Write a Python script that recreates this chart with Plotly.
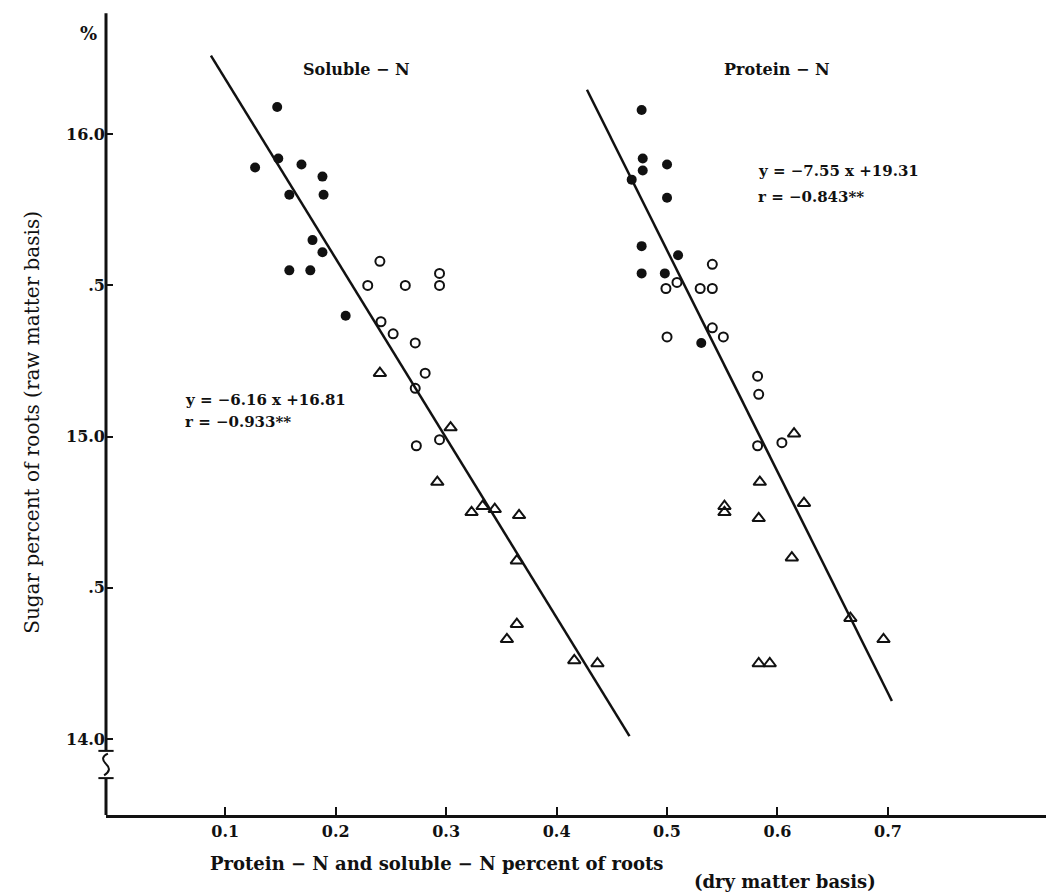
import plotly.graph_objects as go

# ---------------- data ----------------
# Soluble-N
sol_filled_x = [0.147, 0.148, 0.127, 0.169, 0.188, 0.189, 0.158, 0.179, 0.188, 0.158, 0.177, 0.209]
sol_filled_y = [16.09, 15.92, 15.89, 15.90, 15.86, 15.80, 15.80, 15.65, 15.61, 15.55, 15.55, 15.40]
sol_open_x = [0.240, 0.229, 0.263, 0.294, 0.294, 0.241, 0.252, 0.272, 0.281, 0.272, 0.294, 0.273]
sol_open_y = [15.58, 15.50, 15.50, 15.54, 15.50, 15.38, 15.34, 15.31, 15.21, 15.16, 14.99, 14.97]
sol_tri_x = [0.240, 0.304, 0.292, 0.323, 0.333, 0.344, 0.366, 0.364, 0.364, 0.355, 0.416, 0.437]
sol_tri_y = [15.21, 15.03, 14.85, 14.75, 14.77, 14.76, 14.74, 14.59, 14.38, 14.33, 14.26, 14.25]
sol_line_x = [0.087, 0.466]
sol_line_y = [16.26, 14.01]

# Protein-N
pro_filled_x = [0.477, 0.478, 0.478, 0.500, 0.468, 0.500, 0.477, 0.510, 0.477, 0.498, 0.531]
pro_filled_y = [16.08, 15.92, 15.88, 15.90, 15.85, 15.79, 15.63, 15.60, 15.54, 15.54, 15.31]
pro_open_x = [0.541, 0.509, 0.499, 0.530, 0.541, 0.500, 0.541, 0.551, 0.582, 0.583, 0.582, 0.604]
pro_open_y = [15.57, 15.51, 15.49, 15.49, 15.49, 15.33, 15.36, 15.33, 15.20, 15.14, 14.97, 14.98]
pro_tri_x = [0.615, 0.584, 0.552, 0.552, 0.583, 0.624, 0.613, 0.666, 0.696, 0.583, 0.593]
pro_tri_y = [15.01, 14.85, 14.77, 14.75, 14.73, 14.78, 14.60, 14.40, 14.33, 14.25, 14.25]
pro_line_x = [0.4275, 0.7036]
pro_line_y = [16.147, 14.126]

x_tick_vals = [0.1, 0.2, 0.3, 0.4, 0.5, 0.6, 0.7]
x_tick_text = ["0.1", "0.2", "0.3", "0.4", "0.5", "0.6", "0.7"]
y_tick_vals = [14.0, 14.5, 15.0, 15.5, 16.0]
y_tick_text = ["14.0", ".5", "15.0", ".5", "16.0"]

FONT = "DejaVu Serif"
BLACK = "#111111"

fig = go.Figure()

def add_points(xs, ys, symbol, size, lw):
    fig.add_trace(go.Scatter(
        x=xs, y=ys, mode="markers", showlegend=False, hoverinfo="skip",
        marker=dict(symbol=symbol, size=size, color=BLACK,
                    line=dict(color=BLACK, width=lw))))

def add_line(xs, ys):
    fig.add_trace(go.Scatter(
        x=xs, y=ys, mode="lines", showlegend=False, hoverinfo="skip",
        line=dict(color=BLACK, width=2.5)))

add_line(sol_line_x, sol_line_y)
add_line(pro_line_x, pro_line_y)
add_points(sol_filled_x, sol_filled_y, "circle", 10, 0)
add_points(sol_open_x, sol_open_y, "circle-open", 9, 2)
add_points(sol_tri_x, sol_tri_y, "triangle-up-open", 11, 2)
add_points(pro_filled_x, pro_filled_y, "circle", 10, 0)
add_points(pro_open_x, pro_open_y, "circle-open", 9, 2)
add_points(pro_tri_x, pro_tri_y, "triangle-up-open", 11, 2)

tickfont = dict(family=FONT, size=16, color=BLACK, weight="bold")

fig.update_xaxes(range=[-0.008, 0.854], tickvals=x_tick_vals, ticktext=x_tick_text,
                 ticks="inside", ticklen=8, tickwidth=2, tickcolor=BLACK,
                 showline=True, linewidth=3, linecolor=BLACK, showgrid=False,
                 zeroline=False, tickfont=tickfont)
fig.update_yaxes(range=[13.749, 16.401], tickvals=y_tick_vals, ticktext=y_tick_text,
                 ticks="inside", ticklen=7, tickwidth=2, tickcolor=BLACK,
                 showline=False, showgrid=False, zeroline=False, tickfont=tickfont)

# y-axis drawn with a break
ax_col = BLACK
shapes = [
    dict(type="line", xref="paper", yref="y", x0=0, x1=0, y0=13.961, y1=16.40,
         line=dict(color=ax_col, width=3)),
    dict(type="line", xref="paper", yref="y", x0=0, x1=0, y0=13.749, y1=13.871,
         line=dict(color=ax_col, width=3)),
    dict(type="line", xref="paper", yref="y", x0=-0.008, x1=0.008, y0=13.961, y1=13.961,
         line=dict(color=ax_col, width=2)),
    dict(type="line", xref="paper", yref="y", x0=-0.008, x1=0.008, y0=13.871, y1=13.871,
         line=dict(color=ax_col, width=2)),
    dict(type="path", xref="paper", yref="y",
         path="M 0.002,13.952 Q -0.007,13.940 0.0,13.918 Q 0.007,13.898 -0.002,13.880",
         line=dict(color=ax_col, width=2)),
]
fig.update_layout(shapes=shapes)

def ann(text, x, y, size=15, xanchor="left", xref="x", yref="y", angle=0, weight="bold"):
    fig.add_annotation(text=text, x=x, y=y, xref=xref, yref=yref, showarrow=False,
                       xanchor=xanchor, yanchor="middle", textangle=angle,
                       font=dict(family=FONT, size=size, color=BLACK, weight=weight))

ann("Soluble − N", 0.219, 16.213, size=16, xanchor="center")
ann("Protein − N", 0.600, 16.213, size=16, xanchor="center")
ann("y = −7.55 x +19.31", 0.5805, 15.879, size=15)
ann("r = −0.843**", 0.5805, 15.793, size=15)
ann("y = −6.16 x +16.81", 0.0618, 15.121, size=15)
ann("r = −0.933**", 0.0618, 15.049, size=15)

# axis titles
ann("Sugar percent of roots (raw matter basis)", -0.078, 0.49, size=20,
    xanchor="center", xref="paper", yref="paper", angle=-90, weight="normal")
ann("%", -0.018, 0.975, size=18, xanchor="center", xref="paper", yref="paper")
ann("Protein − N and soluble − N percent of roots", 0.348, -0.060, size=18,
    xanchor="center", xref="paper", yref="paper")
ann("(dry matter basis)", 0.713, -0.083, size=18,
    xanchor="center", xref="paper", yref="paper")

fig.update_layout(width=1054, height=892,
                  margin=dict(l=98, r=4, t=5, b=85),
                  paper_bgcolor="white", plot_bgcolor="white")

fig.write_html("out.html")
